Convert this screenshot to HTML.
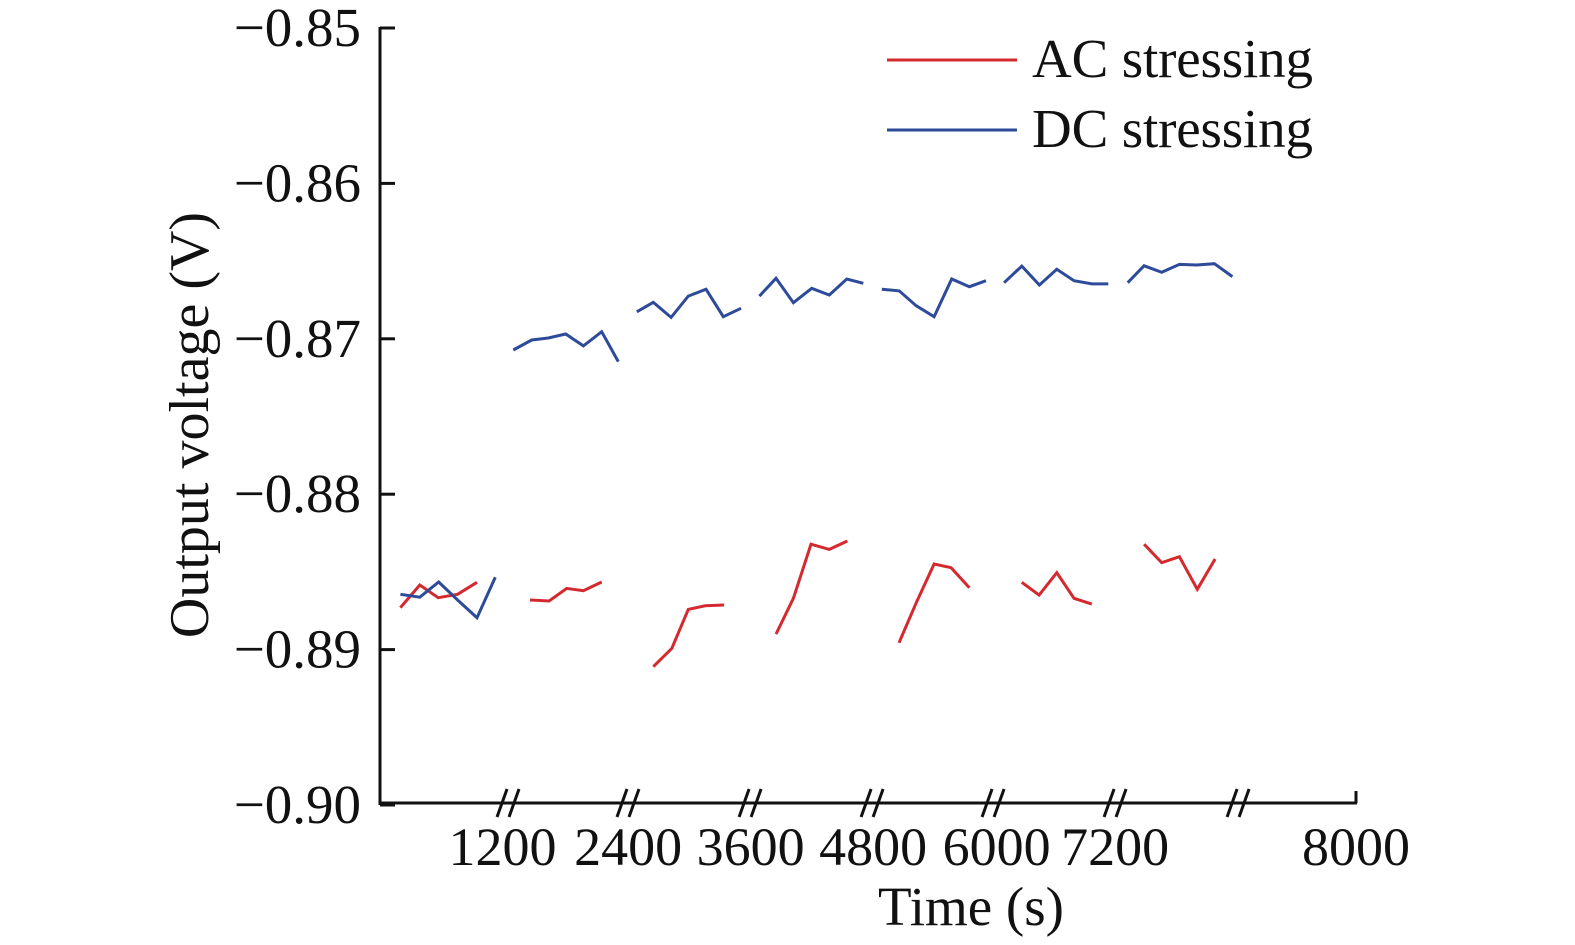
<!DOCTYPE html>
<html><head><meta charset="utf-8"><style>
html,body{margin:0;padding:0;background:#fff}
svg{display:block}
text{font-family:"Liberation Serif",serif;fill:#111}
</style></head><body>
<svg id="chart" width="1575" height="945" viewBox="0 0 1575 945" xmlns="http://www.w3.org/2000/svg">
<g id="axes"></g>
<g id="series"></g>
<g>
 <line x1="887" y1="60" x2="1017" y2="60" stroke="#d42a2f" stroke-width="3"/>
 <text x="1032" y="77" font-size="55" textLength="281">AC stressing</text>
 <line x1="887" y1="130" x2="1017" y2="130" stroke="#2e4b9a" stroke-width="3"/>
 <text x="1032" y="147" font-size="55" textLength="281">DC stressing</text>
</g>
<text x="971" y="925" font-size="55" text-anchor="middle">Time (s)</text>
<text x="0" y="0" font-size="56" text-anchor="middle" transform="translate(208,425) rotate(-90)">Output voltage (V)</text>
</svg>
<script>
const yTicks = [-0.85, -0.86, -0.87, -0.88, -0.89, -0.90];
const yTickLabels = ["\u22120.85", "\u22120.86", "\u22120.87", "\u22120.88", "\u22120.89", "\u22120.90"];
const xTickTimes = [1200, 2430, 3630, 4830, 6040, 7200, 9560];
const xTickLabels = ["1200", "2400", "3600", "4800", "6000", "7200", "8000"];
const breakTimes = [1254, 2429, 3625, 4820, 6005, 7200, 8405];

const acTimes = [
 [200,390,570,760,950],
 [1469,1656,1829,1992,2172],
 [2677,2858,3020,3184,3370],
 [3879,4049,4222,4401,4578],
 [5084,5257,5427,5594,5773],
 [6286,6456,6629,6798,6972],
 [7484,7657,7830,8006,8180]
];
const acValues = [
 [-0.88730,-0.88584,-0.88666,-0.88644,-0.88567],
 [-0.88681,-0.88687,-0.88606,-0.88621,-0.88565],
 [-0.89110,-0.88992,-0.88741,-0.88718,-0.88713],
 [-0.88900,-0.88670,-0.88322,-0.88355,-0.88301],
 [-0.88956,-0.88692,-0.88449,-0.88473,-0.88602],
 [-0.88567,-0.88649,-0.88505,-0.88670,-0.88707],
 [-0.88322,-0.88441,-0.88402,-0.88612,-0.88417]
];
const dcTimes = [
 [200,390,575,760,950,1129],
 [1306,1486,1649,1819,1992,2172,2334],
 [2515,2677,2851,3020,3193,3363,3536],
 [3716,3879,4049,4229,4401,4572,4734],
 [4915,5087,5251,5427,5600,5773,5936],
 [6113,6286,6459,6629,6798,6972,7134],
 [7324,7484,7657,7830,8000,8173,8349]
];
const dcValues = [
 [-0.88644,-0.88663,-0.88565,-0.88681,-0.88795,-0.88535],
 [-0.87072,-0.87008,-0.86995,-0.86969,-0.87046,-0.86954,-0.87147],
 [-0.86826,-0.86765,-0.86862,-0.86725,-0.86681,-0.86858,-0.86804],
 [-0.86725,-0.86611,-0.86768,-0.86675,-0.86718,-0.86615,-0.86643],
 [-0.86681,-0.86692,-0.86787,-0.86858,-0.86615,-0.86665,-0.86626],
 [-0.86639,-0.86532,-0.86654,-0.86553,-0.86626,-0.86647,-0.86647],
 [-0.86639,-0.86530,-0.86572,-0.86521,-0.86525,-0.86517,-0.86600]
];

const X0 = 380, X1 = 1356, T0 = 0, T1 = 9560;
const Y0 = 28, Y1 = 805, V0 = -0.85, V1 = -0.90;
function xs(t){ return X0 + (t - T0) / (T1 - T0) * (X1 - X0); }
function ys(v){ return Y0 + (v - V0) / (V1 - V0) * (Y1 - Y0); }
const NS = "http://www.w3.org/2000/svg";
function mk(tag, attrs, parent){
  const e = document.createElementNS(NS, tag);
  for (const k in attrs) e.setAttribute(k, attrs[k]);
  parent.appendChild(e); return e;
}
const axes = document.getElementById('axes');
const series = document.getElementById('series');
let e;
e = mk('line', {x1:X0, y1:Y0-1, x2:X0, y2:Y1, stroke:'#111', 'stroke-width':3}, axes);


e = mk('line', {x1:X0-1, y1:Y1-2, x2:X1+1, y2:Y1-2, stroke:'#111', 'stroke-width':3}, axes);


e = mk('line', {x1:X1, y1:Y1-14, x2:X1, y2:Y1-2, stroke:'#111', 'stroke-width':3}, axes);


yTicks.forEach((v, i) => {
  const y = ys(v);
  let t = mk('line', {x1:X0, y1:y, x2:X0+15, y2:y, stroke:'#111', 'stroke-width':3}, axes);
  
  
  let l = mk('text', {x:361, y:y+18, 'font-size':55, 'text-anchor':'end'}, axes);
  l.textContent = yTickLabels[i];
  
  
});
xTickTimes.forEach((t, i) => {
  const x = xs(t);
  let l = mk('text', {x:x, y:865, 'font-size':54, 'text-anchor':'middle'}, axes);
  l.textContent = xTickLabels[i];
  
  
});
breakTimes.forEach(t => {
  const x = xs(t);
  [-6, 6].forEach(d => {
    let b = mk('line', {x1:x+d-5, y1:Y1+12, x2:x+d+5, y2:Y1-16, stroke:'#111', 'stroke-width':3}, axes);
    
    
  });
});
function drawSeries(times, values, color, name){
  times.forEach((ts, s) => {
    const pts = ts.map((t, i) => xs(t).toFixed(1) + ',' + ys(values[s][i]).toFixed(1)).join(' ');
    let p = mk('polyline', {points:pts, fill:'none', stroke:color, 'stroke-width':3, 'stroke-linejoin':'miter'}, series);
    
    
  });
}
drawSeries(acTimes, acValues, '#d42a2f', 'ac-stressing-line');
drawSeries(dcTimes, dcValues, '#2e4b9a', 'dc-stressing-line');
</script>
</body></html>
